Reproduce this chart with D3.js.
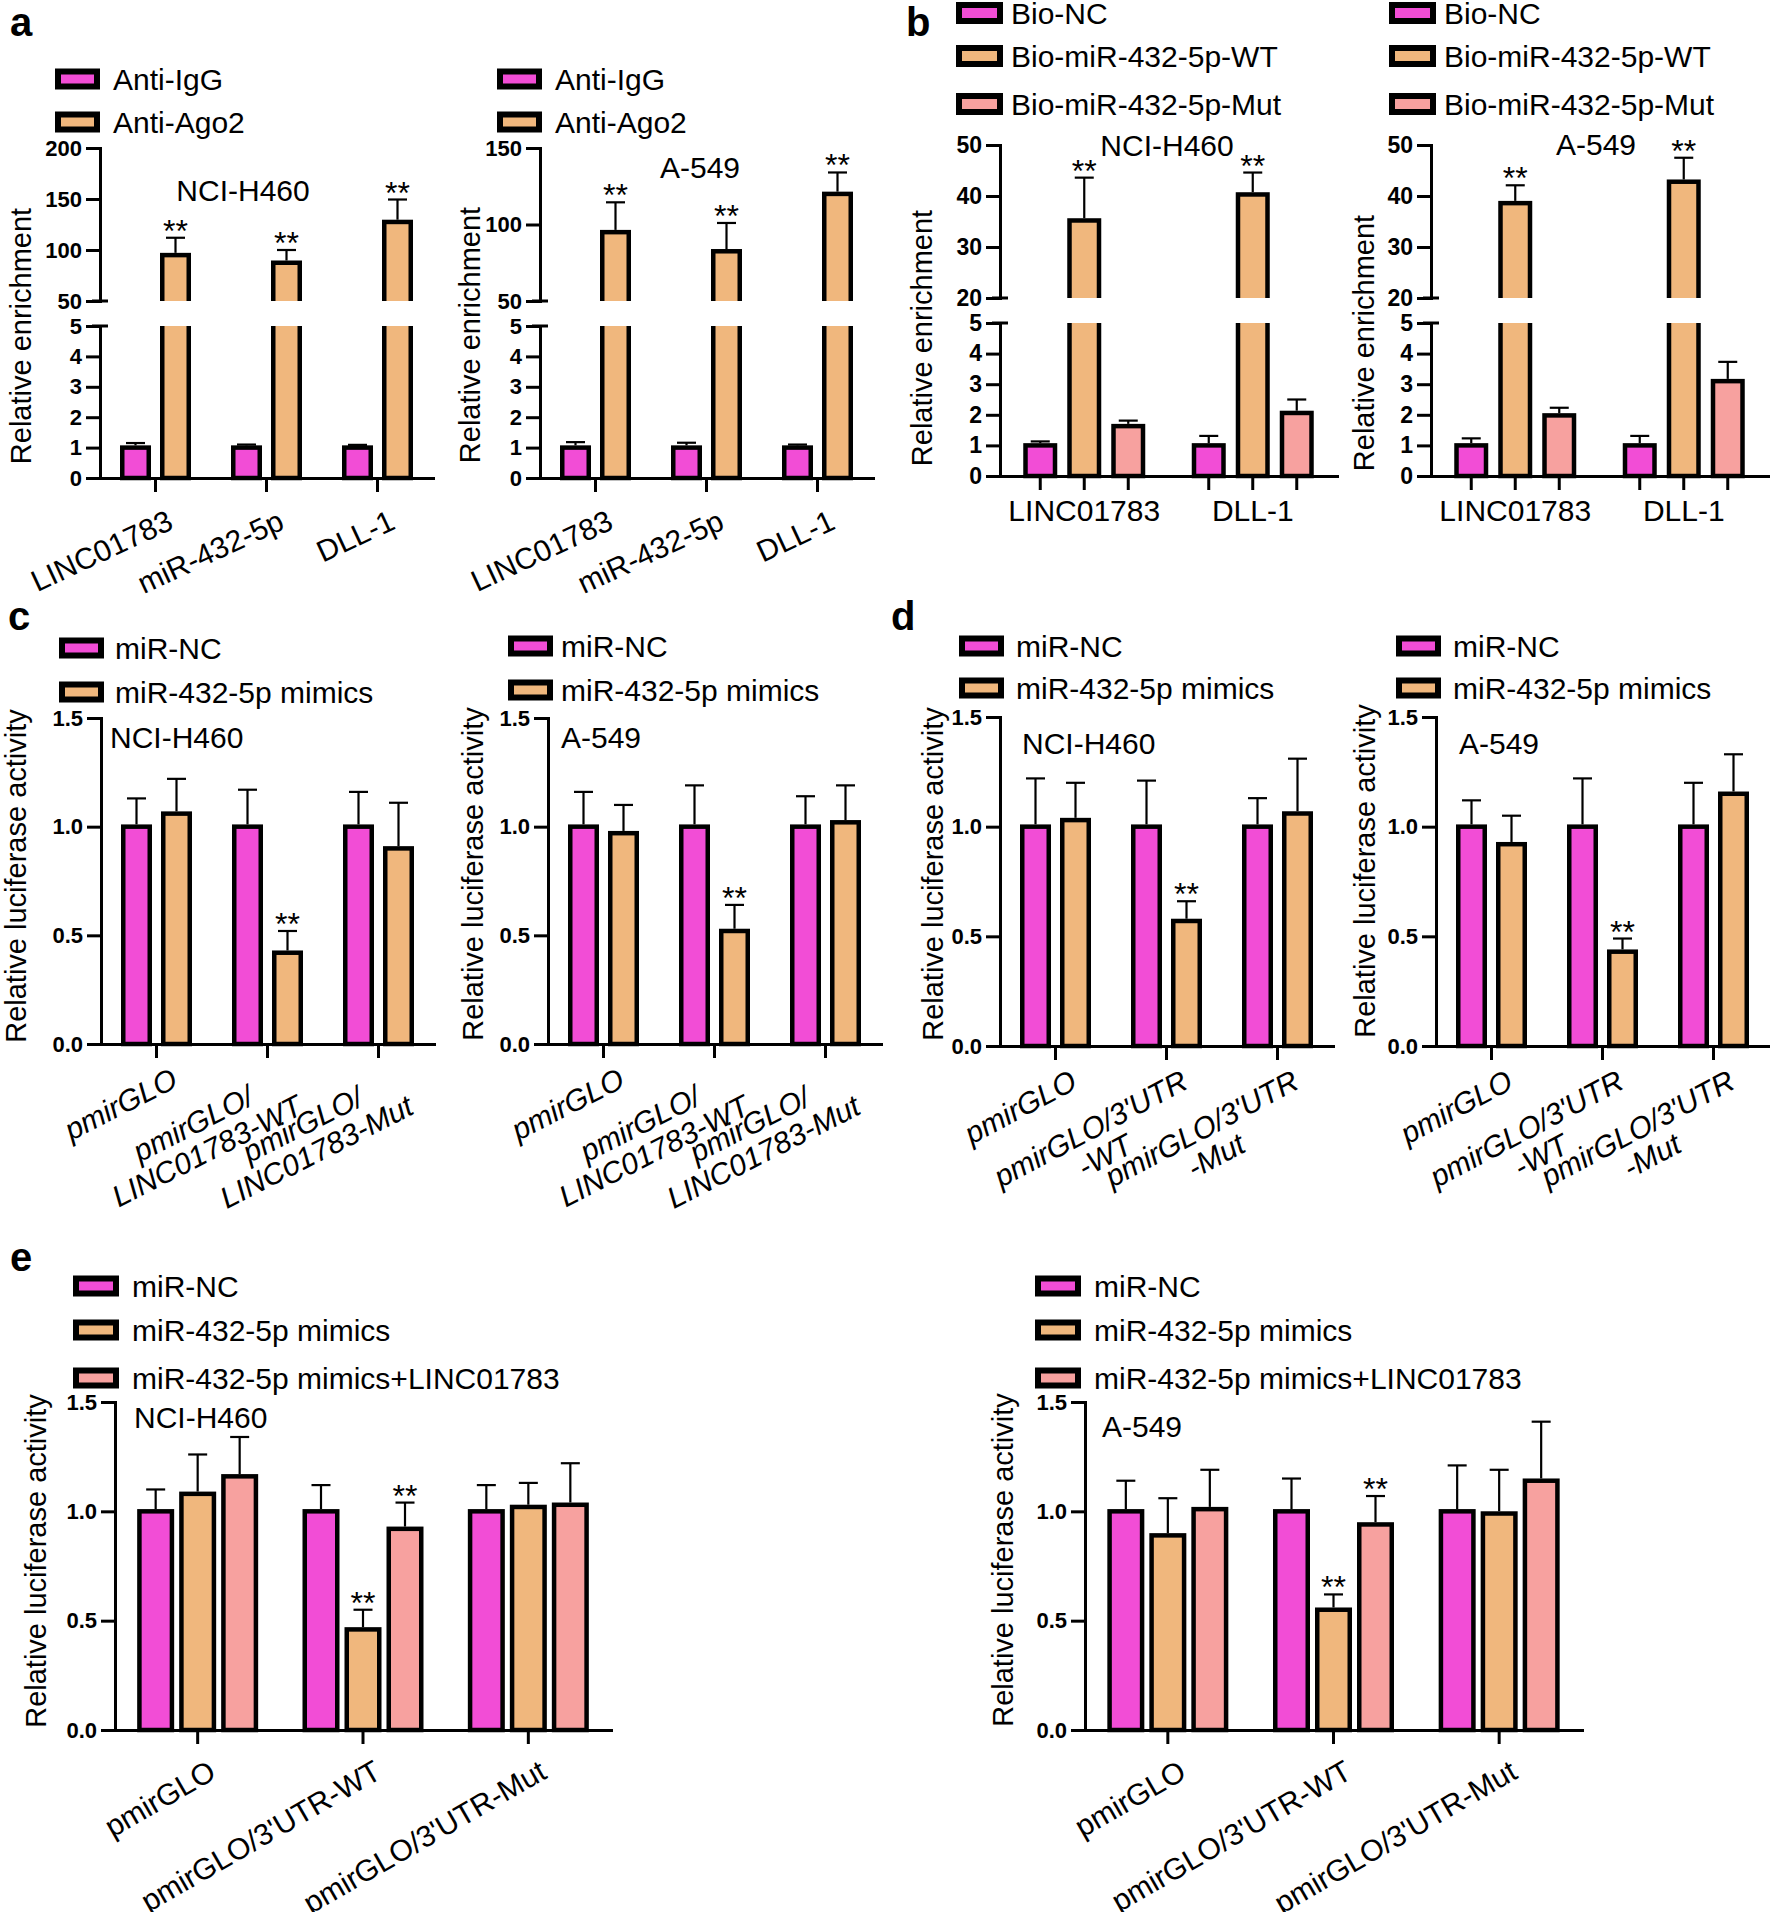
<!DOCTYPE html>
<html>
<head>
<meta charset="utf-8">
<script src="https://cdn.jsdelivr.net/npm/d3@7"></script>
<style>
body{margin:0;background:#fff}
text{font-family:"Liberation Sans",Arial,sans-serif;fill:#000}
</style>
</head>
<body>
<script>
var W=1770, H=1912;
var MAG="#f24dd6", TAN="#f0b77d", SAL="#f7a19f";

// ---- panel a : RIP (Ago2) ----
var aCats=["LINC01783","miR-432-5p","DLL-1"];
var aSeries=["Anti-IgG","Anti-Ago2"];
var aH460IgG=[1,1,1], aH460IgGSd=[0.15,0.10,0.09];
var aH460Ago2=[95,87.5,127.5], aH460Ago2Sd=[17,12.5,22];
var aA549IgG=[1,1,1], aA549IgGSd=[0.18,0.16,0.10];
var aA549Ago2=[95,82.5,120], aA549Ago2Sd=[19.5,18.5,14];
var aSig=["**","**","**"];
var aLowTicks=[0,1,2,3,4,5], aH460HighTicks=[50,100,150,200], aA549HighTicks=[50,100,150];

// ---- panel b : biotin pull-down ----
var bCats=["LINC01783","DLL-1"];
var bSeries=["Bio-NC","Bio-miR-432-5p-WT","Bio-miR-432-5p-Mut"];
var bH460NC=[1,1], bH460NCSd=[0.13,0.31];
var bH460WT=[35.2,40.3], bH460WTSd=[8.4,4.3];
var bH460Mut=[1.63,2.06], bH460MutSd=[0.18,0.44];
var bA549NC=[1,1], bA549NCSd=[0.23,0.31];
var bA549WT=[38.6,42.8], bA549WTSd=[3.5,4.7];
var bA549Mut=[1.98,3.1], bA549MutSd=[0.25,0.63];
var bSig=["**","**"];
var bLowTicks=[0,1,2,3,4,5], bHighTicks=[20,30,40,50];

// ---- panel c : luciferase, LINC01783 ----
var cCats=["pmirGLO","pmirGLO/LINC01783-WT","pmirGLO/LINC01783-Mut"];
var cLabels=[["pmirGLO"],["pmirGLO/","LINC01783-WT"],["pmirGLO/","LINC01783-Mut"]];
var cdSeries=["miR-NC","miR-432-5p mimics"];
var cH460NC=[1,1,1], cH460NCSd=[0.13,0.17,0.16];
var cH460Mim=[1.06,0.42,0.90], cH460MimSd=[0.16,0.10,0.21];
var cA549NC=[1,1,1], cA549NCSd=[0.16,0.19,0.14];
var cA549Mim=[0.97,0.52,1.02], cA549MimSd=[0.13,0.12,0.17];
var mimSig=["","**",""];
var lucTicks=[0,0.5,1,1.5];

// ---- panel d : luciferase, DLL-1 3'UTR ----
var dCats=["pmirGLO","pmirGLO/3'UTR-WT","pmirGLO/3'UTR-Mut"];
var dLabels=[["pmirGLO"],["pmirGLO/3'UTR","-WT"],["pmirGLO/3'UTR","-Mut"]];
var dH460NC=[1,1,1], dH460NCSd=[0.22,0.21,0.13];
var dH460Mim=[1.03,0.57,1.06], dH460MimSd=[0.17,0.09,0.25];
var dA549NC=[1,1,1], dA549NCSd=[0.12,0.22,0.20];
var dA549Mim=[0.92,0.43,1.15], dA549MimSd=[0.13,0.06,0.18];

// ---- panel e : rescue ----
var eCats=["pmirGLO","pmirGLO/3'UTR-WT","pmirGLO/3'UTR-Mut"];
var eSeries=["miR-NC","miR-432-5p mimics","miR-432-5p mimics+LINC01783"];
var eH460NC=[1,1,1], eH460NCSd=[0.10,0.12,0.12];
var eH460Mim=[1.08,0.46,1.02], eH460MimSd=[0.18,0.09,0.11];
var eH460Lnc=[1.16,0.92,1.03], eH460LncSd=[0.18,0.12,0.19];
var eA549NC=[1,1,1], eA549NCSd=[0.14,0.15,0.21];
var eA549Mim=[0.89,0.55,0.99], eA549MimSd=[0.17,0.07,0.20];
var eA549Lnc=[1.01,0.94,1.14], eA549LncSd=[0.18,0.13,0.27];

var svg=d3.select("body").append("svg").attr("width",W).attr("height",H);
svg.append("rect").attr("width",W).attr("height",H).attr("fill","#fff");
var defs=svg.append("defs");
var clipN=0;

function ser(name,color,values,sd,sig){ return {name:name,color:color,values:values,sd:sd,sig:sig}; }

function drawPlot(p){
  var g=svg.append("g");
  var sw=4.5, font=p.font||30;
  var xg=d3.scaleBand().domain(p.cats).range([p.x0,p.x1]);
  var n=p.series.length, pin=1-p.bw/p.step;
  var xs=d3.scaleBand().domain(d3.range(n)).range([-n*p.step/2,n*p.step/2]).paddingInner(pin).paddingOuter(pin/2);
  var cx=function(ci,k){ return xg(p.cats[ci])+xg.bandwidth()/2+xs(k)+xs.bandwidth()/2; };
  var last=p.segs.length-1;

  p.segs.forEach(function(s,si){
    var ys=d3.scaleLinear().domain(s.dom).range(s.range);
    var top=si==last?0:s.range[1], bot=si==0?p.y0+6:s.range[0];
    var id="clip"+(clipN++);
    defs.append("clipPath").attr("id",id).append("rect").attr("x",0).attr("y",top).attr("width",W).attr("height",bot-top);
    var bg=g.append("g").attr("clip-path","url(#"+id+")");
    p.series.forEach(function(se,k){
      se.values.forEach(function(v,ci){
        if(si>0 && v<=s.dom[0]) return;
        var yt=v>s.dom[1]?s.range[1]-20:ys(v);
        var yb=si==0?p.y0:s.range[0]+20;
        bg.append("rect").attr("x",cx(ci,k)-(xs.bandwidth()-sw)/2).attr("y",yt)
          .attr("width",xs.bandwidth()-sw).attr("height",yb-yt)
          .attr("fill",se.color).attr("stroke","#000").attr("stroke-width",sw);
      });
    });
    // error bars + stars, drawn in the segment where the bar ends
    p.series.forEach(function(se,k){
      se.values.forEach(function(v,ci){
        if(v<s.dom[0] || v>s.dom[1]) return;
        var x=cx(ci,k), ye=ys(v+se.sd[ci]);
        g.append("line").attr("x1",x).attr("x2",x).attr("y1",ys(v)-sw/2).attr("y2",ye).attr("stroke","#000").attr("stroke-width",2.2);
        g.append("line").attr("x1",x-9.5).attr("x2",x+9.5).attr("y1",ye).attr("y2",ye).attr("stroke","#000").attr("stroke-width",2.2);
        if(se.sig && se.sig[ci]) g.append("text").attr("x",x).attr("y",ye+4).attr("text-anchor","middle")
          .style("font-size","32px").text(se.sig[ci]);
      });
    });
    var ax=d3.axisLeft(ys).tickValues(s.ticks).tickSize(14).tickSizeOuter(0).tickPadding(4)
      .tickFormat(p.fmt?d3.format(p.fmt):d3.format("d"));
    var ag=g.append("g").attr("transform","translate("+p.x0+",0)").call(ax);
    ag.select(".domain").attr("stroke-width",3).attr("stroke-linecap","square");
    ag.selectAll(".tick line").attr("stroke-width",3);
    ag.selectAll(".tick text").attr("fill","#000").style("font-size",(p.tickFont||22)+"px").style("font-weight","bold")
      .style("font-family","'Liberation Sans',Arial,sans-serif");
    if(p.segs.length>1){
      var yc=si==0?s.range[1]:s.range[0];
      g.append("line").attr("x1",p.x0-8).attr("x2",p.x0+8).attr("y1",yc).attr("y2",yc).attr("stroke","#000").attr("stroke-width",3);
    }
  });

  // x axis
  var xa=d3.axisBottom(xg).tickSize(p.barTicks?0:14).tickSizeOuter(0).tickFormat("");
  var xag=g.append("g").attr("transform","translate(0,"+p.y0+")").call(xa);
  xag.select(".domain").attr("stroke-width",3).attr("stroke-linecap","square");
  xag.selectAll(".tick line").attr("stroke-width",3);
  if(p.barTicks){
    p.cats.forEach(function(c,ci){ p.series.forEach(function(se,k){
      g.append("line").attr("x1",cx(ci,k)).attr("x2",cx(ci,k)).attr("y1",p.y0).attr("y2",p.y0+14).attr("stroke","#000").attr("stroke-width",3);
    });});
  }

  // category labels (rotated blocks: lines centred on each other, block end at the tick)
  p.labels.forEach(function(lines,ci){
    var tx=xg(p.cats[ci])+xg.bandwidth()/2;
    if(p.xlab.mode=="flat"){
      g.append("text").attr("x",tx).attr("y",p.y0+p.xlab.dy).attr("text-anchor","middle").style("font-size",font+"px").text(lines[0]);
      return;
    }
    var lg=g.append("g").attr("transform","translate("+(tx+p.xlab.dx)+","+(p.y0+p.xlab.dy)+") rotate("+p.xlab.angle+")");
    var ts=lines.map(function(l){
      return lg.append("text").text(l).attr("text-anchor","middle").style("font-size",font+"px")
        .style("font-style",p.xlab.italic?"italic":"normal");
    });
    var mw=d3.max(ts,function(t){ return t.node().getComputedTextLength(); });
    ts.forEach(function(t,i){ t.attr("x",-mw/2).attr("y",(0.74+i*1.02)*font); });
  });

  // legend
  p.series.forEach(function(se,k){
    var cy=p.leg.ys[k];
    g.append("rect").attr("x",p.leg.x+3).attr("y",cy-p.leg.h/2+3).attr("width",p.leg.w-6).attr("height",p.leg.h-6)
      .attr("fill",se.color).attr("stroke","#000").attr("stroke-width",6);
    g.append("text").attr("x",p.leg.tx).attr("y",cy).attr("dy","0.36em").style("font-size",font+"px").text(se.name);
  });

  g.append("text").attr("x",p.cell.x).attr("y",p.cell.y).attr("text-anchor",p.cell.anchor)
    .style("font-size",font+"px").text(p.cell.text);
  g.append("text").attr("transform","translate("+p.ylab.x+","+p.ylab.y+") rotate(-90)").attr("dy","0.35em")
    .attr("text-anchor","middle").style("font-size","29px").text(p.ylab.text);
}

// panel letters
[["a",10,36],["b",906,36],["c",8,630],["d",891,630],["e",10,1271]].forEach(function(l){
  svg.append("text").attr("x",l[1]).attr("y",l[2]).style("font-size","40px").style("font-weight","bold").text(l[0]);
});

var rotA={mode:"rot",angle:-25,dx:10,dy:30,italic:false};
var rotC={mode:"rot",angle:-27,dx:13,dy:22,italic:true};
var rotD={mode:"rot",angle:-28,dx:13,dy:22,italic:true};
var rotE={mode:"rot",angle:-30,dx:9,dy:28,italic:false};

// a
drawPlot({x0:100,x1:433,y0:478,
  segs:[{dom:[0,5],range:[478,326],ticks:aLowTicks},{dom:[50,200],range:[301,148],ticks:aH460HighTicks}],
  cats:aCats,labels:aCats.map(function(c){return [c];}),
  series:[ser(aSeries[0],MAG,aH460IgG,aH460IgGSd),ser(aSeries[1],TAN,aH460Ago2,aH460Ago2Sd,aSig)],
  step:40,bw:31,xlab:rotA,
  leg:{x:55,ys:[79,122],w:45,h:21,tx:113},
  cell:{text:"NCI-H460",x:243,y:201,anchor:"middle"},ylab:{text:"Relative enrichment",x:21,y:336}});
drawPlot({x0:540,x1:873,y0:478,
  segs:[{dom:[0,5],range:[478,326],ticks:aLowTicks},{dom:[50,150],range:[301,148],ticks:aA549HighTicks}],
  cats:aCats,labels:aCats.map(function(c){return [c];}),
  series:[ser(aSeries[0],MAG,aA549IgG,aA549IgGSd),ser(aSeries[1],TAN,aA549Ago2,aA549Ago2Sd,aSig)],
  step:40,bw:31,xlab:rotA,
  leg:{x:497,ys:[79,122],w:45,h:21,tx:555},
  cell:{text:"A-549",x:700,y:178,anchor:"middle"},ylab:{text:"Relative enrichment",x:470,y:335}});

// b
drawPlot({x0:1000,x1:1337,y0:476,barTicks:true,tickFont:23,
  segs:[{dom:[0,5],range:[476,323],ticks:bLowTicks},{dom:[20,50],range:[298,145],ticks:bHighTicks}],
  cats:bCats,labels:bCats.map(function(c){return [c];}),
  series:[ser(bSeries[0],MAG,bH460NC,bH460NCSd),ser(bSeries[1],TAN,bH460WT,bH460WTSd,bSig),ser(bSeries[2],SAL,bH460Mut,bH460MutSd)],
  step:44,bw:34,xlab:{mode:"flat",dy:45},
  leg:{x:956,ys:[13,56,104],w:47,h:22,tx:1011},
  cell:{text:"NCI-H460",x:1167,y:156,anchor:"middle"},ylab:{text:"Relative enrichment",x:922,y:338}});
drawPlot({x0:1431,x1:1768,y0:476,barTicks:true,tickFont:23,
  segs:[{dom:[0,5],range:[476,323],ticks:bLowTicks},{dom:[20,50],range:[298,145],ticks:bHighTicks}],
  cats:bCats,labels:bCats.map(function(c){return [c];}),
  series:[ser(bSeries[0],MAG,bA549NC,bA549NCSd),ser(bSeries[1],TAN,bA549WT,bA549WTSd,bSig),ser(bSeries[2],SAL,bA549Mut,bA549MutSd)],
  step:44,bw:34,xlab:{mode:"flat",dy:45},
  leg:{x:1389,ys:[13,56,104],w:47,h:22,tx:1444},
  cell:{text:"A-549",x:1596,y:155,anchor:"middle"},ylab:{text:"Relative enrichment",x:1364,y:343}});

// c
drawPlot({x0:101,x1:434,y0:1044,fmt:".1f",
  segs:[{dom:[0,1.5],range:[1044,718],ticks:lucTicks}],
  cats:cCats,labels:cLabels,
  series:[ser(cdSeries[0],MAG,cH460NC,cH460NCSd),ser(cdSeries[1],TAN,cH460Mim,cH460MimSd,mimSig)],
  step:40,bw:31,xlab:rotC,
  leg:{x:59,ys:[648,692],w:45,h:21,tx:115},
  cell:{text:"NCI-H460",x:110,y:748,anchor:"start"},ylab:{text:"Relative luciferase activity",x:16,y:876}});
drawPlot({x0:548,x1:881,y0:1044,fmt:".1f",
  segs:[{dom:[0,1.5],range:[1044,718],ticks:lucTicks}],
  cats:cCats,labels:cLabels,
  series:[ser(cdSeries[0],MAG,cA549NC,cA549NCSd),ser(cdSeries[1],TAN,cA549Mim,cA549MimSd,mimSig)],
  step:40,bw:31,xlab:rotC,
  leg:{x:508,ys:[646,690],w:45,h:21,tx:561},
  cell:{text:"A-549",x:561,y:748,anchor:"start"},ylab:{text:"Relative luciferase activity",x:473,y:874}});

// d
drawPlot({x0:1000,x1:1333,y0:1046,fmt:".1f",
  segs:[{dom:[0,1.5],range:[1046,717],ticks:lucTicks}],
  cats:dCats,labels:dLabels,
  series:[ser(cdSeries[0],MAG,dH460NC,dH460NCSd),ser(cdSeries[1],TAN,dH460Mim,dH460MimSd,mimSig)],
  step:40,bw:31,xlab:rotD,
  leg:{x:959,ys:[646,688],w:45,h:21,tx:1016},
  cell:{text:"NCI-H460",x:1022,y:754,anchor:"start"},ylab:{text:"Relative luciferase activity",x:933,y:874}});
drawPlot({x0:1436,x1:1769,y0:1046,fmt:".1f",
  segs:[{dom:[0,1.5],range:[1046,717],ticks:lucTicks}],
  cats:dCats,labels:dLabels,
  series:[ser(cdSeries[0],MAG,dA549NC,dA549NCSd),ser(cdSeries[1],TAN,dA549Mim,dA549MimSd,mimSig)],
  step:40,bw:31,xlab:rotD,
  leg:{x:1396,ys:[646,688],w:45,h:21,tx:1453},
  cell:{text:"A-549",x:1459,y:754,anchor:"start"},ylab:{text:"Relative luciferase activity",x:1365,y:871}});

// e
drawPlot({x0:115,x1:611,y0:1730,fmt:".1f",
  segs:[{dom:[0,1.5],range:[1730,1402],ticks:lucTicks}],
  cats:eCats,labels:eCats.map(function(c){return [c];}),
  series:[ser(eSeries[0],MAG,eH460NC,eH460NCSd),ser(eSeries[1],TAN,eH460Mim,eH460MimSd,mimSig),ser(eSeries[2],SAL,eH460Lnc,eH460LncSd,mimSig)],
  step:42,bw:37,xlab:rotE,
  leg:{x:73,ys:[1286,1330,1378],w:46,h:21,tx:132},
  cell:{text:"NCI-H460",x:134,y:1428,anchor:"start"},ylab:{text:"Relative luciferase activity",x:36,y:1561}});
drawPlot({x0:1085,x1:1582,y0:1730,fmt:".1f",
  segs:[{dom:[0,1.5],range:[1730,1402],ticks:lucTicks}],
  cats:eCats,labels:eCats.map(function(c){return [c];}),
  series:[ser(eSeries[0],MAG,eA549NC,eA549NCSd),ser(eSeries[1],TAN,eA549Mim,eA549MimSd,mimSig),ser(eSeries[2],SAL,eA549Lnc,eA549LncSd,mimSig)],
  step:42,bw:37,xlab:rotE,
  leg:{x:1035,ys:[1286,1330,1378],w:46,h:21,tx:1094},
  cell:{text:"A-549",x:1102,y:1437,anchor:"start"},ylab:{text:"Relative luciferase activity",x:1003,y:1560}});
</script>
</body>
</html>
